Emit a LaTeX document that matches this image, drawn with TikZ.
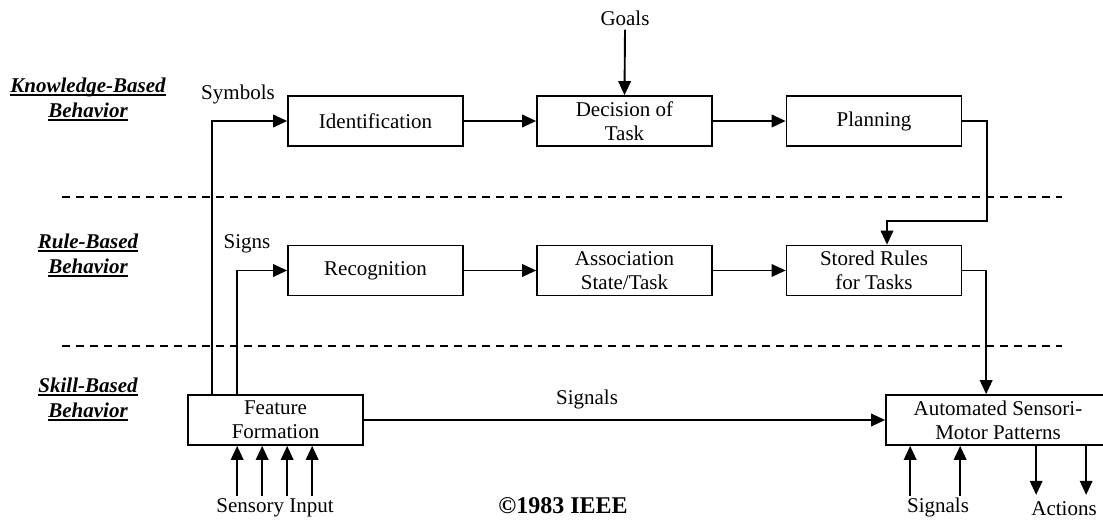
\documentclass[tikz,border=0pt]{standalone}
\usepackage{fontspec}
\setmainfont{Liberation Serif}
\usetikzlibrary{arrows.meta,calc}
\newcommand\myul[1]{\setbox0\hbox{#1}\rlap{\raisebox{-4pt}{\rule{\wd0}{2.4pt}}}\box0}
\tikzset{
  txt/.style={font=\fontsize{21}{24}\selectfont, inner sep=0pt, align=center},
  box/.style={txt, draw, line width=1.7pt, minimum width=175pt, minimum height=50pt},
  arr/.style={line width=1.9pt, -{Triangle[length=14pt,width=12.5pt]}},
  sep/.style={line width=1.6pt, dash pattern=on 8pt off 6pt},
  lab/.style={font=\fontsize{21}{26}\selectfont\bfseries\itshape, inner sep=0pt, align=center}
}
\begin{document}
\begin{tikzpicture}[x=1pt,y=-1pt]
\useasboundingbox (0,0) rectangle (1103,520);
% separators
\draw[sep] (62,197) -- (1062,197);
\draw[sep] (62,346) -- (1062,346);
% level labels
\node[lab] (kb1) at (88,87) {\myul{Knowledge-Based}};
\node[lab] (kb2) at (88,112) {\myul{Behavior}};
\node[lab] (rb1) at (88,243) {\myul{Rule-Based}};
\node[lab] (rb2) at (88,268) {\myul{Behavior}};
\node[lab] (sb1) at (88,387) {\myul{Skill-Based}};
\node[lab] (sb2) at (88,412) {\myul{Behavior}};
% boxes
\node[box] (Id) at (375.5,121) {Identification};
\node[box] (Dec) at (624.5,121) {Decision of\\Task};
\node[box] (Plan) at (874,121) {Planning};
\node[box] (Rec) at (375.5,270.5) {Recognition};
\node[box] (Ass) at (624.5,270.5) {Association\\State/Task};
\node[box] (SR) at (874,270.5) {Stored Rules\\for Tasks};
\node[box] (F) at (275.5,420) {Feature\\Formation};
\node[box, minimum width=224pt] (Auto) at (998,420) {Automated Sensori-\\Motor Patterns};
% text labels
\node[txt] (Goals) at (625,18) {Goals};
\node[txt] (Sym) at (238,94) {Symbols};
\node[txt] (Signs) at (247,244) {Signs};
\node[txt] (Sig) at (587,399) {Signals};
\node[txt] (SensIn) at (275,508) {Sensory Input};
\node[txt] (Sig2) at (938,507) {Signals};
\node[txt] (Act) at (1064,509) {Actions};
\node[font=\fontsize{24}{26}\selectfont\bfseries, inner sep=0pt] (cr) at (563,506) {©1983 IEEE};
% connectors
\draw[arr] ([yshift=-4pt]Goals.south) -- (Dec.north);
\draw[arr] (Id.east) -- (Dec.west);
\draw[arr] (Dec.east) -- (Plan.west);
\draw[arr] (Rec.east) -- (Ass.west);
\draw[arr] (Ass.east) -- (SR.west);
\draw[arr] ([xshift=25pt]F.north west) |- (Id.west);
\draw[arr] ([xshift=50pt]F.north west) |- (Rec.west);
\coordinate (k1) at (987,221);
\draw[arr] (Plan.east) -| (k1) -| ([xshift=13pt]SR.north);
\draw[arr] (SR.east) -| ([xshift=101pt]Auto.north west);
\draw[arr] (F.east) -- (Auto.west);
\foreach \dx in {50,75,100,125}
  \draw[arr] ([xshift=\dx pt,yshift=-50pt]F.south west) -- ([xshift=\dx pt]F.south west);
\foreach \dx in {25,75}
  \draw[arr] ([xshift=\dx pt,yshift=-50pt]Auto.south west) -- ([xshift=\dx pt]Auto.south west);
\foreach \dx in {151,201}
  \draw[arr] ([xshift=\dx pt]Auto.south west) -- ([xshift=\dx pt,yshift=-49pt]Auto.south west);
\end{tikzpicture}
\end{document}
